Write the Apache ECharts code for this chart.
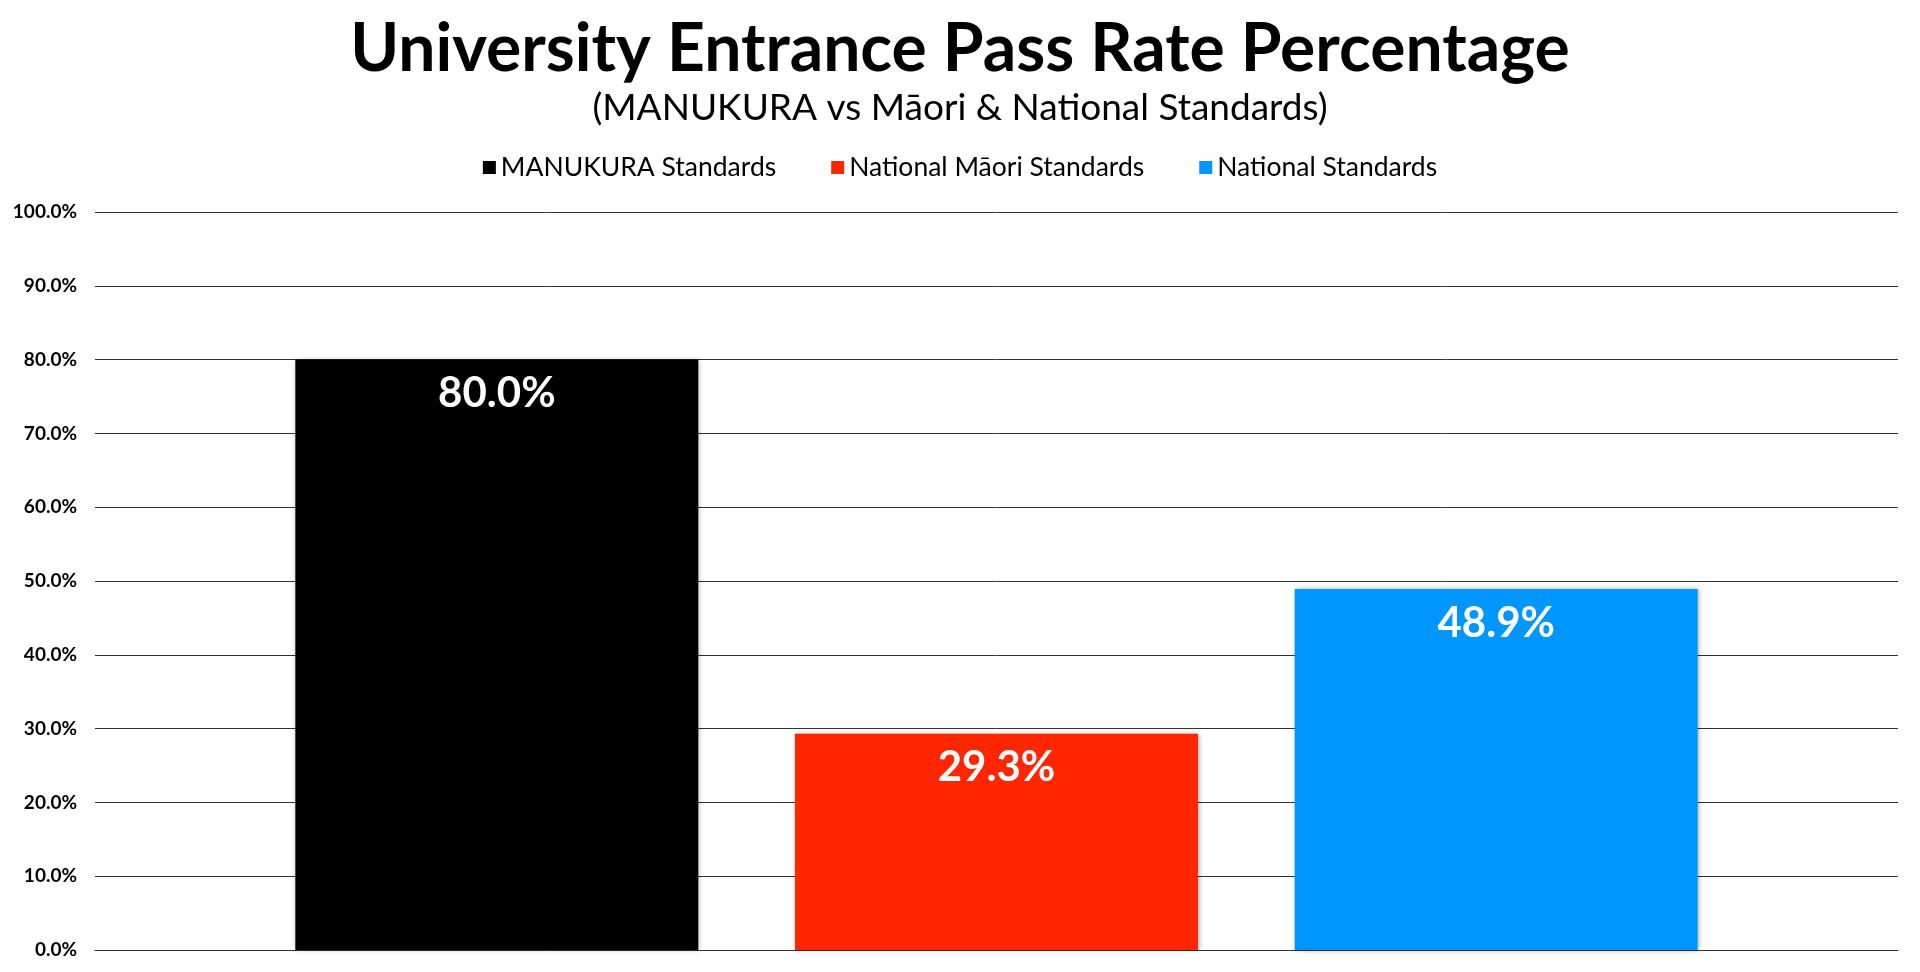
<!DOCTYPE html>
<html>
<head>
<meta charset="utf-8">
<script src="https://cdn.jsdelivr.net/npm/echarts@6/dist/echarts.min.js"></script>
<style>
html,body{margin:0;padding:0;background:#fff;}
#chart{width:1920px;height:972px;}
</style>
</head>
<body>
<div id="chart"></div>
<script>
const titleText = 'University Entrance Pass Rate Percentage';
const subtitleText = '(MANUKURA vs Māori & National Standards)';
const categories = ['University Entrance'];
const seriesNames = ['MANUKURA Standards', 'National Māori Standards', 'National Standards'];
const seriesColors = ['#000000', '#FF2600', '#0096FF'];
const manukuraValues = [80.0];
const maoriValues = [29.3];
const nationalValues = [48.9];
const yTicks = [0, 10, 20, 30, 40, 50, 60, 70, 80, 90, 100];

const valueSets = [manukuraValues, maoriValues, nationalValues];
const chart = echarts.init(document.getElementById('chart'));
const option = {
  backgroundColor: '#ffffff',
  animation: false,
  title: [
    {
      text: titleText,
      left: 'center',
      top: 12,
      textStyle: { fontFamily: 'Lato', fontWeight: 'bold', fontSize: 66, color: '#000' }
    },
    {
      text: subtitleText,
      left: 'center',
      top: 85,
      textStyle: { fontFamily: 'Lato', fontWeight: 'normal', fontSize: 37, color: '#000' }
    }
  ],
  legend: {
    top: 149,
    left: 'center',
    itemWidth: 13,
    itemHeight: 13,
    itemGap: 55,
    icon: 'rect',
    textStyle: { fontFamily: 'Lato', fontSize: 26.5, color: '#000', padding: [2, 0, 0, 0] },
    data: seriesNames
  },
  grid: { left: 95, right: 22, top: 212, bottom: 22, containLabel: false },
  xAxis: {
    type: 'category',
    data: categories,
    axisLabel: { show: false },
    axisTick: { show: false },
    axisLine: { show: true, lineStyle: { color: '#333', width: 1 } }
  },
  yAxis: {
    type: 'value',
    min: yTicks[0],
    max: yTicks[yTicks.length - 1],
    interval: 10,
    axisLine: { show: false },
    axisTick: { show: false },
    axisLabel: {
      fontFamily: 'Lato',
      fontWeight: 'bold',
      fontSize: 19,
      color: '#000',
      margin: 18,
      formatter: v => v.toFixed(1) + '%'
    },
    splitLine: { lineStyle: { color: '#333', width: 1 } }
  },
  series: seriesNames.map((name, i) => ({
    name: name,
    type: 'bar',
    data: valueSets[i],
    barWidth: '22.35%',
    barGap: '24%',
    itemStyle: {
      color: seriesColors[i],
      shadowBlur: 5,
      shadowColor: 'rgba(0,0,0,0.35)',
      shadowOffsetX: 1,
      shadowOffsetY: 0
    },
    label: {
      show: true,
      position: 'insideTop',
      distance: 13,
      color: '#fff',
      fontFamily: 'Lato',
      fontWeight: 'bold',
      fontSize: 42,
      formatter: p => p.value.toFixed(1) + '%'
    }
  }))
};
chart.setOption(option);
</script>
</body>
</html>
